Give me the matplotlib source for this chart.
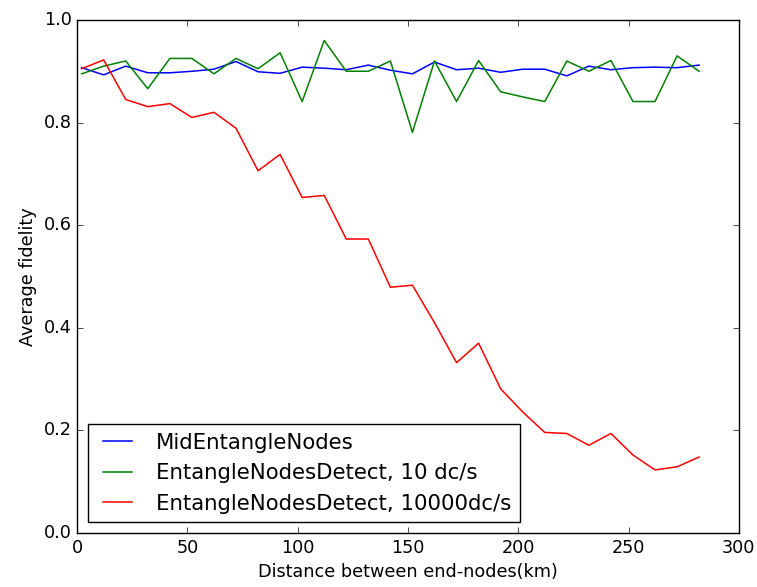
import numpy as np
import matplotlib
matplotlib.use('Agg')
import matplotlib.pyplot as plt

# Distances between end-nodes (km)
distance = [2, 12, 22, 32, 42, 52, 62, 72, 82, 92, 102, 112, 122, 132, 142,
            152, 162, 172, 182, 192, 202, 212, 222, 232, 242, 252, 262, 272, 282]

# Average fidelity per scheme
mid_entangle = [0.907, 0.893, 0.910, 0.897, 0.897, 0.900, 0.904, 0.919, 0.899, 0.896,
                0.908, 0.906, 0.903, 0.912, 0.902, 0.895, 0.918, 0.903, 0.906, 0.898,
                0.904, 0.904, 0.891, 0.910, 0.903, 0.907, 0.908, 0.907, 0.912]
detect_10 = [0.895, 0.910, 0.920, 0.866, 0.925, 0.925, 0.895, 0.925, 0.905, 0.936,
             0.841, 0.960, 0.900, 0.900, 0.920, 0.781, 0.920, 0.841, 0.921, 0.860,
             0.850, 0.841, 0.920, 0.900, 0.921, 0.841, 0.841, 0.930, 0.900]
detect_10000 = [0.905, 0.922, 0.845, 0.831, 0.837, 0.810, 0.820, 0.789, 0.706, 0.738,
                0.654, 0.658, 0.573, 0.573, 0.479, 0.483, 0.410, 0.332, 0.370, 0.281,
                0.236, 0.196, 0.194, 0.171, 0.194, 0.152, 0.123, 0.129, 0.148]

labels = ['MidEntangleNodes', 'EntangleNodesDetect, 10 dc/s', 'EntangleNodesDetect, 10000dc/s']


def main():
    plt.style.use('classic')
    # text in the reference is a touch larger than classic defaults
    plt.rcParams['font.size'] = 12.7
    plt.rcParams['legend.fontsize'] = 15.3

    fig = plt.figure(figsize=(7.57, 5.87), dpi=100)
    fig.patch.set_facecolor('white')
    ax = fig.add_axes([0.102, 0.092, 0.874, 0.874])

    ax.plot(distance, mid_entangle, color='b', lw=1.1, label=labels[0])
    ax.plot(distance, detect_10, color='g', lw=1.1, label=labels[1])
    ax.plot(distance, detect_10000, color='r', lw=1.1, label=labels[2])

    ax.set_xlim(0, 300)
    ax.set_ylim(0, 1.0)
    ax.set_xlabel('Distance between end-nodes(km)')
    ax.set_ylabel('Average fidelity')
    ax.legend(loc='lower left')

    fig.savefig('out.png', dpi=100, facecolor='white')


if __name__ == '__main__':
    main()
